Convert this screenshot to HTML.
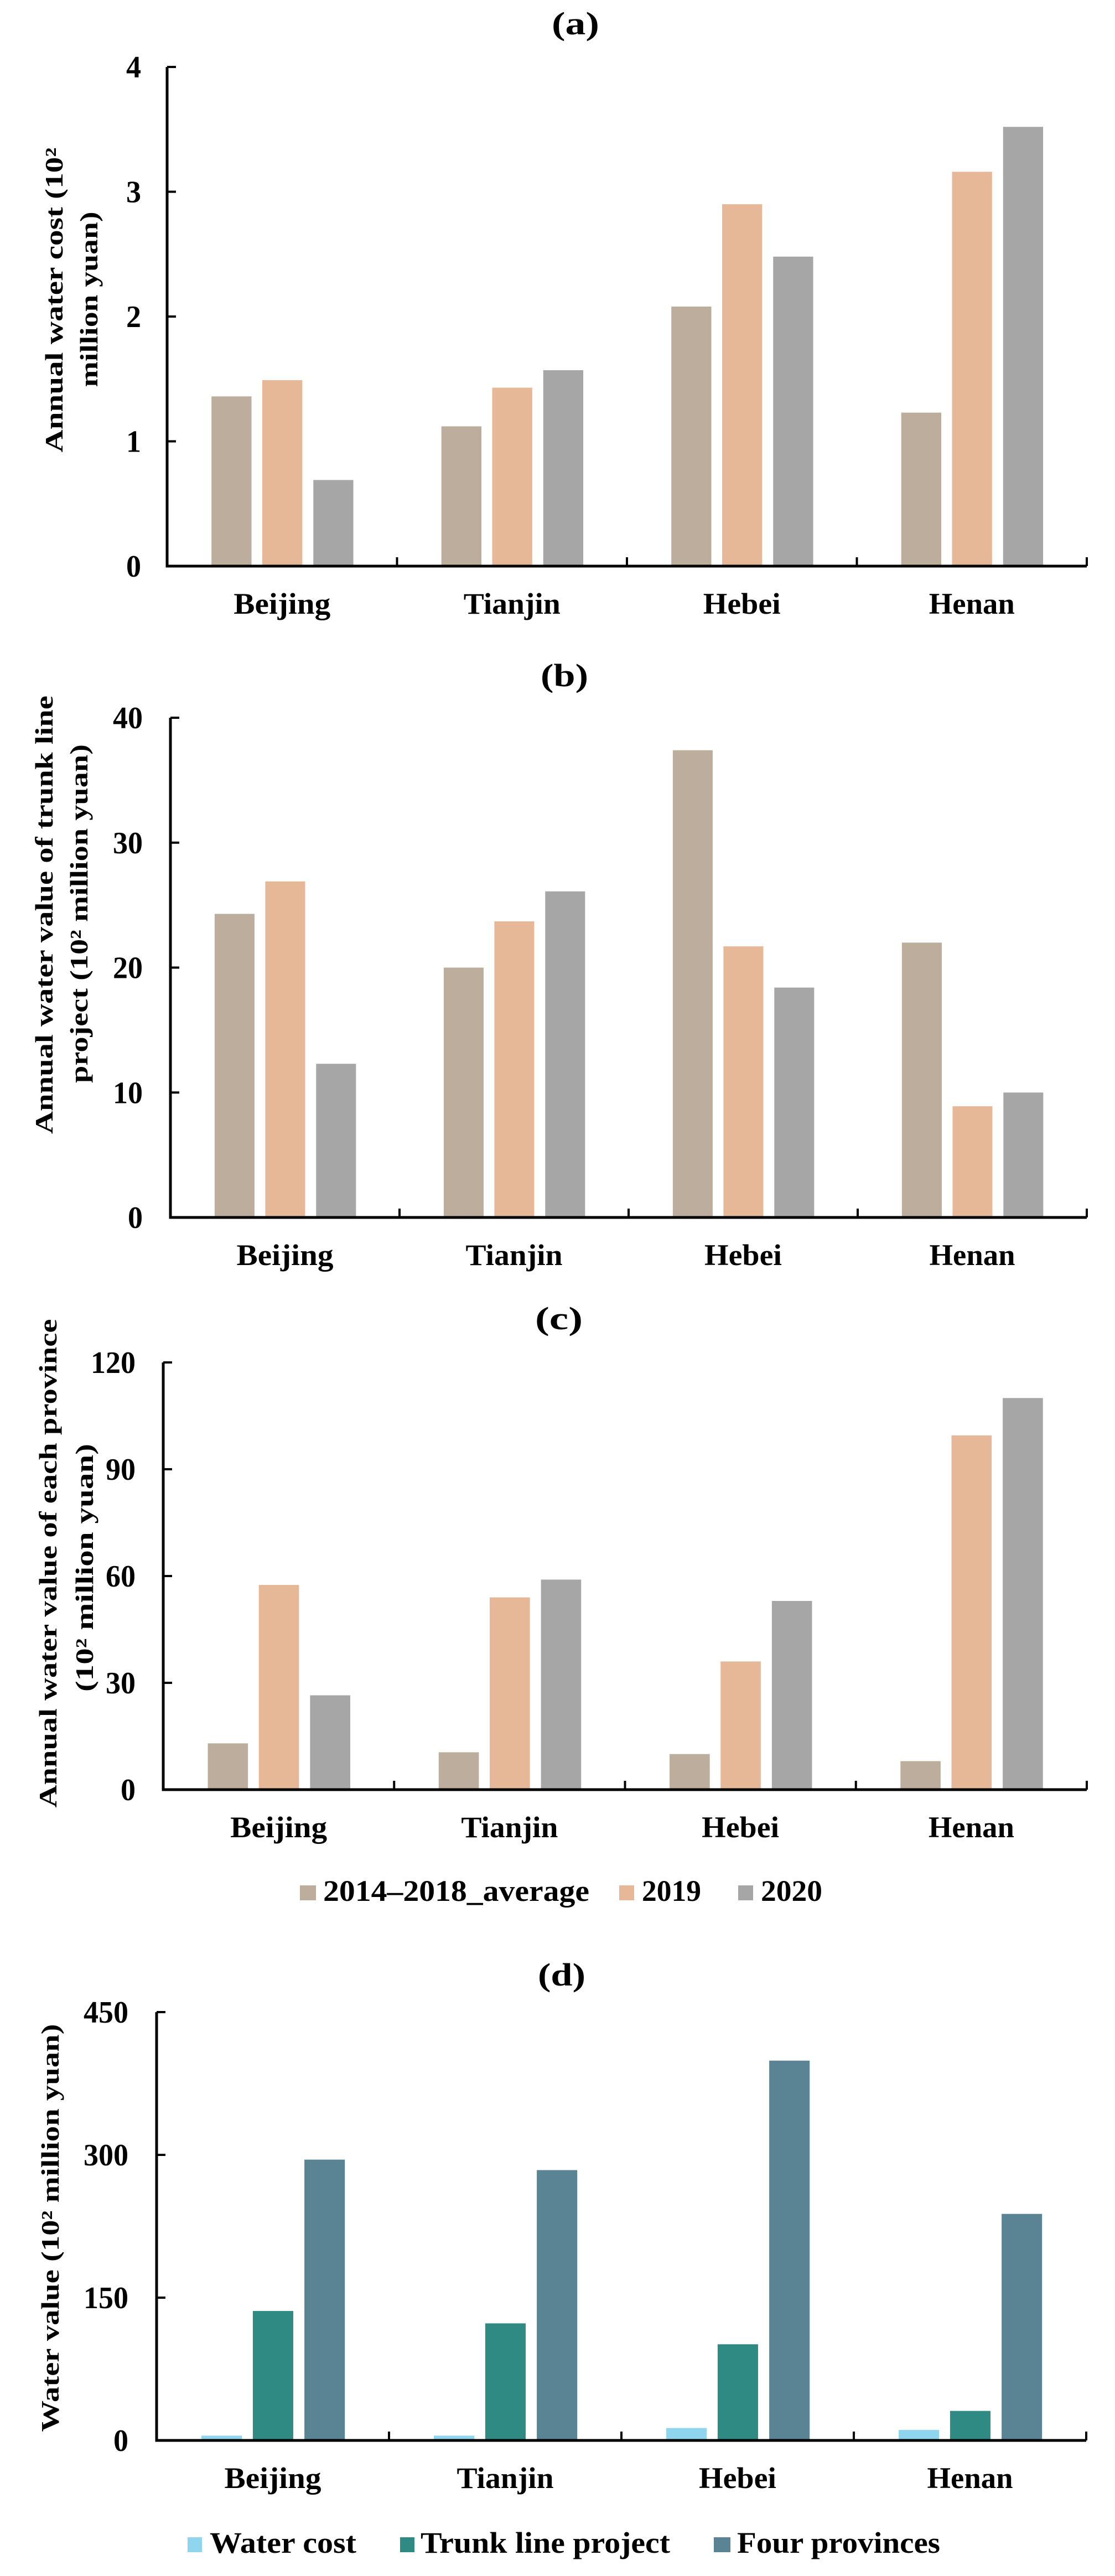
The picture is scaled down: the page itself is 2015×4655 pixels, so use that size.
<!DOCTYPE html>
<html><head><meta charset="utf-8">
<style>
html,body{margin:0;padding:0;background:#fff;}
svg{display:block;}
text{font-family:"Liberation Serif","Noto Serif CJK SC",serif;font-weight:bold;fill:#000;}
</style></head>
<body>
<svg id="fig" width="2015" height="4655" viewBox="0 0 2015 4655" xmlns="http://www.w3.org/2000/svg"></svg>
<script>
const categories = ["Beijing","Tianjin","Hebei","Henan"];
// panel (a) annual water cost
const aAvg  = [1.36,1.12,2.08,1.23];
const a2019 = [1.49,1.43,2.90,3.16];
const a2020 = [0.69,1.57,2.48,3.52];
const aTicks = [0,1,2,3,4];
// panel (b) trunk line project
const bAvg  = [24.3,20.0,37.4,22.0];
const b2019 = [26.9,23.7,21.7,8.9];
const b2020 = [12.3,26.1,18.4,10.0];
const bTicks = [0,10,20,30,40];
// panel (c) each province
const cAvg  = [13,10.5,10,8];
const c2019 = [57.5,54,36,99.5];
const c2020 = [26.5,59,53,110];
const cTicks = [0,30,60,90,120];
// panel (d) water value
const dCost  = [5,5,13,11];
const dTrunk = [136,123,101,31];
const dFour  = [295,284,399,238];
const dTicks = [0,150,300,450];
const seriesNames1 = ["2014–2018_average","2019","2020"];
const seriesNames2 = ["Water cost","Trunk line project","Four provinces"];

const NS="http://www.w3.org/2000/svg";
const svg=document.getElementById('fig');
function mk(tag,attrs,parent,txt){const e=document.createElementNS(NS,tag);for(const k in attrs)e.setAttribute(k,attrs[k]);if(txt!==undefined)e.textContent=txt;(parent||svg).appendChild(e);return e;}

function panel(cfg){
  const g=mk('g',{});
  
  
  const L=cfg.left,R=cfg.right,T=cfg.top,B=cfg.zero,max=cfg.ticks[cfg.ticks.length-1];
  const y=v=>B-(v/max)*(B-T);
  const cw=(R-L)/categories.length;
  const t=mk('text',{x:cfg.titleX,y:cfg.titleY,'font-size':58,'text-anchor':'middle',textLength:86,lengthAdjust:'spacingAndGlyphs'},g,cfg.title);
  
  
  const offs=[0.193,0.414,0.636],bw=0.174;
  cfg.series.forEach((s,si)=>{
    s.forEach((v,ci)=>{
      const r=mk('rect',{x:L+cw*ci+offs[si]*cw,y:y(v),width:bw*cw,height:B-y(v),fill:cfg.colors[si]},g);
      
      
    });
  });
  const ax=mk('path',{d:`M${L},${T} V${B} H${R}`,stroke:'#000','stroke-width':5,fill:'none'},g);
  
  
  cfg.ticks.forEach(tv=>{
    mk('line',{x1:L,x2:L+16,y1:y(tv),y2:y(tv),stroke:'#000','stroke-width':4},g);
    const s=String(tv);
    const lb=mk('text',{x:cfg.tickRight,y:y(tv)+19,'font-size':56,'text-anchor':'end',textLength:27*s.length,lengthAdjust:'spacingAndGlyphs'},g,s);
    
    
  });
  for(let i=1;i<=categories.length;i++){
    mk('line',{x1:L+cw*i,x2:L+cw*i,y1:B,y2:B-16,stroke:'#000','stroke-width':4},g);
  }
  const cwid=[175,175,140,155];
  categories.forEach((c,ci)=>{
    const lb=mk('text',{x:L+cw*(ci+0.5),y:B+86,'font-size':54,'text-anchor':'middle',textLength:cwid[ci],lengthAdjust:'spacingAndGlyphs'},g,c);
    
    
  });
  cfg.ytitle.forEach(l=>{
    const tt=mk('text',{x:0,y:0,'font-size':46,'text-anchor':'middle',textLength:l.len,lengthAdjust:'spacingAndGlyphs',transform:`translate(${l.bx},${l.cy}) rotate(-90)`},g,l.text);
    
    
  });
  if(cfg.legend){
    cfg.legend.forEach((le,i)=>{
      const r=mk('rect',{x:le.sx,y:cfg.legendY-28,width:le.sw,height:27,fill:cfg.colors[i]},g);
      
      
      const tx=mk('text',{x:le.tx,y:cfg.legendY,'font-size':54,textLength:le.tw,lengthAdjust:'spacingAndGlyphs'},g,cfg.legendNames[i]);
      
      
    });
  }
}
const c1=['#bcad9c','#e6b898','#a6a6a6'];
panel({name:'panel-a',title:'(a)',titleX:1040,titleY:62,left:302,right:1964,top:121,zero:1023,ticks:aTicks,tickRight:255,
  series:[aAvg,a2019,a2020],colors:c1,
  ytitle:[{text:'Annual water cost (10²',bx:113,cy:542,len:551},{text:'million  yuan)',bx:176,cy:541,len:317}]});
panel({name:'panel-b',title:'(b)',titleX:1020,titleY:1240,left:308,right:1964,top:1297,zero:2200,ticks:bTicks,tickRight:258,
  series:[bAvg,b2019,b2020],colors:c1,
  ytitle:[{text:'Annual water value of trunk line',bx:95,cy:1653,len:792},{text:'project (10² million yuan)',bx:158,cy:1651,len:612}]});
panel({name:'panel-c',title:'(c)',titleX:1010,titleY:2402,left:295,right:1964,top:2462,zero:3234,ticks:cTicks,tickRight:245,
  series:[cAvg,c2019,c2020],colors:c1,
  ytitle:[{text:'Annual water value of each province',bx:102,cy:2825,len:883},{text:'(10² million  yuan)',bx:168,cy:2833,len:448}],
  legend:[{sx:542,sw:29,tx:584,tw:481},{sx:1119,sw:27,tx:1160,tw:107},{sx:1334,sw:27,tx:1375,tw:111}],
  legendNames:seriesNames1,legendY:3435});
panel({name:'panel-d',title:'(d)',titleX:1015,titleY:3588,left:283,right:1963,top:3636,zero:4410,ticks:dTicks,tickRight:232,
  series:[dCost,dTrunk,dFour],colors:['#8fd5ee','#2e8a82','#5a8393'],
  ytitle:[{text:'Water value (10² million  yuan)',bx:106,cy:4026,len:737}],
  legend:[{sx:339,sw:26,tx:379,tw:265},{sx:723,sw:26,tx:760,tw:451},{sx:1290,sw:30,tx:1332,tw:367}],
  legendNames:seriesNames2,legendY:4613});
</script>
</body></html>
